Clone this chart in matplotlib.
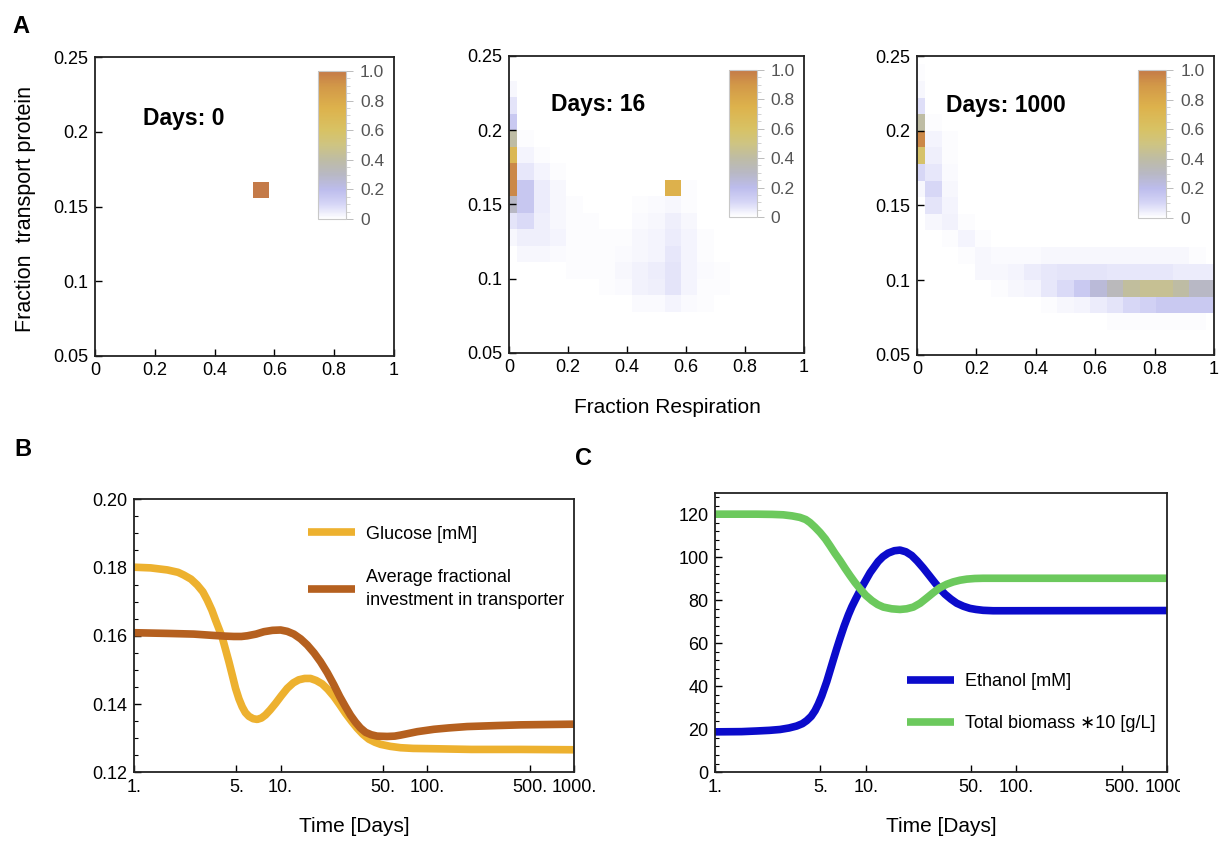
import numpy as np
import matplotlib
matplotlib.use("Agg")
import matplotlib.pyplot as plt
from matplotlib.colors import LinearSegmentedColormap, Normalize
from matplotlib.cm import ScalarMappable
from matplotlib.ticker import MultipleLocator, NullLocator
from matplotlib.transforms import Bbox, TransformedBbox

plt.rcParams['font.family'] = ['Liberation Sans', 'DejaVu Sans']

# ---------- panel A : population density on a 19 x 19 grid ----------
# cells: (column index along respiration, row index along transport, density)
days0_cells = [(10, 10, 1.0)]

days16_cells = [
    (0, 16, .02), (0, 15, .07), (0, 14, .15), (0, 13, .4), (0, 12, .7), (0, 11, .95), (0, 10, .95), (0, 9, .3), (0, 8, .07), (0, 7, .02),
    (1, 13, .01), (1, 12, .03), (1, 11, .06), (1, 10, .16), (1, 9, .16), (1, 8, .09), (1, 7, .04), (1, 6, .02),
    (2, 12, .01), (2, 11, .03), (2, 10, .05), (2, 9, .05), (2, 8, .04), (2, 7, .04), (2, 6, .02),
    (3, 11, .01), (3, 10, .02), (3, 9, .02), (3, 8, .02), (3, 7, .03), (3, 6, .015),
    (4, 9, .01), (4, 8, .01), (4, 7, .01), (4, 6, .01), (4, 5, .01),
    (5, 8, .01), (5, 7, .01), (5, 6, .01), (5, 5, .01),
    (6, 7, .01), (6, 6, .01), (6, 5, .01), (6, 4, .01),
    (7, 7, .01), (7, 6, .015), (7, 5, .02), (7, 4, .015),
    (8, 9, .01), (8, 8, .015), (8, 7, .02), (8, 6, .02), (8, 5, .035), (8, 4, .035), (8, 3, .015),
    (9, 9, .015), (9, 8, .02), (9, 7, .03), (9, 6, .03), (9, 5, .045), (9, 4, .04), (9, 3, .015),
    (10, 10, .75), (10, 9, .02), (10, 8, .04), (10, 7, .05), (10, 6, .06), (10, 5, .07), (10, 4, .07), (10, 3, .03),
    (11, 10, .01), (11, 9, .01), (11, 8, .02), (11, 7, .03), (11, 6, .03), (11, 5, .03), (11, 4, .03), (11, 3, .015),
    (12, 7, .01), (12, 6, .01), (12, 5, .015), (12, 4, .01), (12, 3, .01),
    (13, 5, .01), (13, 4, .01),
]

days1000_cells = [
    (0, 17, .01), (0, 16, .02), (0, 15, .08), (0, 14, .4), (0, 13, .95), (0, 12, .58), (0, 11, .1), (0, 10, .02),
    (1, 14, .01), (1, 13, .03), (1, 12, .04), (1, 11, .06), (1, 10, .1), (1, 9, .07), (1, 8, .02),
    (2, 13, .01), (2, 12, .01), (2, 11, .015), (2, 10, .02), (2, 9, .03), (2, 8, .035), (2, 7, .01),
    (3, 8, .01), (3, 7, .03), (3, 6, .01),
    (4, 7, .01), (4, 6, .02), (4, 5, .02),
    (5, 6, .015), (5, 5, .02), (5, 4, .01),
    (6, 6, .015), (6, 5, .03), (6, 4, .02),
    (7, 6, .015), (7, 5, .05), (7, 4, .03),
    (8, 6, .02), (8, 5, .06), (8, 4, .06), (8, 3, .01),
    (9, 6, .02), (9, 5, .07), (9, 4, .09), (9, 3, .02),
    (10, 6, .02), (10, 5, .07), (10, 4, .15), (10, 3, .03),
    (11, 6, .02), (11, 5, .07), (11, 4, .25), (11, 3, .05),
    (12, 6, .02), (12, 5, .06), (12, 4, .33), (12, 3, .07), (12, 2, .01),
    (13, 6, .02), (13, 5, .06), (13, 4, .42), (13, 3, .1), (13, 2, .01),
    (14, 6, .02), (14, 5, .06), (14, 4, .45), (14, 3, .12), (14, 2, .01),
    (15, 6, .02), (15, 5, .06), (15, 4, .45), (15, 3, .15), (15, 2, .01),
    (16, 6, .02), (16, 5, .05), (16, 4, .4), (16, 3, .15), (16, 2, .01),
    (17, 6, .01), (17, 5, .05), (17, 4, .3), (17, 3, .15), (17, 2, .01),
    (18, 5, .05), (18, 4, .3), (18, 3, .15),
]

day_titles = ["Days: 0", "Days: 16", "Days: 1000"]

# ---------- panel B ----------
glc_t = [1, 1.3, 1.69, 2.0, 2.19, 2.45, 2.7, 2.95, 3.16, 3.4, 3.6, 3.8, 4.0, 4.2, 4.44, 4.7,
         4.93, 5.2, 5.47, 5.75, 6.08, 6.5, 6.93, 7.4, 7.89, 8.5, 9.24, 10.1, 11.1, 12.2, 13.3,
         14.6, 16.0, 17.5, 19.2, 21.0, 23.1, 25.3, 27.7, 30.4, 33.3, 36.5, 40, 44, 48, 56, 65.8,
         80, 111, 200, 433, 1000]
glc_v = [0.1801, 0.1799, 0.1793, 0.1786, 0.1778, 0.1766, 0.1749, 0.1729, 0.1705, 0.1675, 0.1646,
         0.1620, 0.1595, 0.1562, 0.1524, 0.1482, 0.1446, 0.1415, 0.1392, 0.1375, 0.1364, 0.1357,
         0.1355, 0.1359, 0.1368, 0.1383, 0.1402, 0.1424, 0.1446, 0.1462, 0.1471, 0.1475, 0.1475,
         0.1469, 0.1459, 0.1443, 0.1422, 0.1398, 0.1373, 0.1350, 0.1329, 0.1311, 0.1297, 0.1288,
         0.1282, 0.1276, 0.1272, 0.1270, 0.1269, 0.1267, 0.1267, 0.1266]

inv_t = [1, 1.69, 2.56, 3.51, 4.2, 4.8, 5.4, 5.93, 6.8, 7.7, 8.8, 10.0, 11.1, 12.3, 13.7, 15.2,
         16.9, 18.7, 20.8, 23.1, 25.3, 27.7, 30, 32.4, 35, 38.0, 41.5, 45.5, 53.3, 60, 65.8, 75,
         85.4, 111, 140, 187, 300, 433, 1000]
inv_v = [0.1609, 0.1607, 0.1605, 0.1601, 0.1599, 0.1598, 0.1598, 0.1600, 0.1605, 0.1612, 0.1616,
         0.1617, 0.1613, 0.1605, 0.1591, 0.1573, 0.1550, 0.1524, 0.1492, 0.1456, 0.1422, 0.1392,
         0.1367, 0.1347, 0.1330, 0.1317, 0.1310, 0.1306, 0.1305, 0.1306, 0.1309, 0.1314, 0.1319,
         0.1326, 0.1330, 0.1334, 0.1337, 0.1339, 0.1341]

# ---------- panel C ----------
eth_t = [1, 1.5, 1.89, 2.3, 2.70, 3.1, 3.48, 3.8, 4.06, 4.35, 4.61, 4.85, 5.11, 5.52, 5.8, 6.10,
         6.42, 6.76, 7.2, 7.68, 8.1, 8.59, 9.42, 10.7, 12.1, 13.0, 14.1, 15.5, 16.9, 18.5, 20.2,
         22, 24.1, 26.4, 28.9, 31.2, 33.6, 36.8, 40.2, 44.5, 49.2, 54, 60.2, 70, 86.2, 1000]
eth_v = [18.8, 18.9, 19.2, 19.5, 19.9, 20.6, 21.5, 22.6, 24.0, 26.0, 28.6, 31.7, 35.5, 42.2, 47.2,
         52.3, 57.4, 62.3, 68.0, 73.2, 77.0, 80.6, 86.0, 92.8, 98.0, 100.2, 101.9, 103.0, 103.3,
         102.5, 100.8, 98.2, 95.0, 91.5, 88.0, 85.2, 82.8, 80.5, 78.6, 77.2, 76.2, 75.7, 75.3,
         75.1, 75.1, 75.2]

bio_t = [1, 1.89, 2.4, 2.84, 3.25, 3.66, 4.0, 4.27, 4.6, 4.98, 5.4, 5.80, 6.25, 6.76, 7.3, 7.88,
         8.5, 9.18, 10.0, 11.0, 12.0, 13.1, 14.9, 16.9, 18.7, 20.7, 23.0, 25.4, 28.1, 31.1, 34.5,
         38.1, 42.3, 46.9, 53, 60.2, 1000]
bio_v = [120.0, 120.0, 119.9, 119.7, 119.2, 118.5, 117.5, 116.1, 114.0, 111.5, 108.5, 105.3, 101.8,
         98.4, 94.8, 91.4, 88.2, 85.3, 82.3, 79.8, 78.0, 76.8, 76.0, 75.7, 76.0, 76.8, 78.6, 81.0,
         83.5, 85.8, 87.4, 88.5, 89.3, 89.8, 90.1, 90.2, 90.2]

time_ticks = [1, 5, 10, 50, 100, 500, 1000]
time_labels = ["1.", "5.", "10.", "50.", "100.", "500.", "1000."]

# colour scheme of the density plots
cmap = LinearSegmentedColormap.from_list("dens", [
    (0.0, '#ffffff'), (0.1, '#d6d6f6'), (0.2, '#bcbcec'), (0.3, '#b8b8c4'), (0.4, '#bebca4'),
    (0.5, '#cec482'), (0.6, '#d8c264'), (0.75, '#ddb24c'), (0.9, '#d29848'), (1.0, '#c47a48')])
norm = Normalize(0, 1)

fig = plt.figure(figsize=(12.3, 8.41), dpi=100)

x_edges = np.arange(-0.5, 19.5) / 18
y_edges = 0.05 + np.arange(-0.5, 19.5) * 0.2 / 18


def density_panel(rect, cells, title, title_pos):
    ax = fig.add_axes(rect)
    grid = np.zeros((19, 19))
    for c, r, v in cells:
        grid[r, c] = v
    ax.pcolormesh(x_edges, y_edges, grid, cmap=cmap, norm=norm)
    ax.set_xlim(0, 1)
    ax.set_ylim(0.05, 0.25)
    ax.set_xticks([0, 0.2, 0.4, 0.6, 0.8, 1])
    ax.set_xticklabels(["0", "0.2", "0.4", "0.6", "0.8", "1"])
    ax.set_yticks([0.05, 0.1, 0.15, 0.2, 0.25])
    ax.set_yticklabels(["0.05", "0.1", "0.15", "0.2", "0.25"])
    ax.tick_params(direction='in', length=5, width=1, labelsize=13, pad=4.5)
    for s in ax.spines.values():
        s.set_linewidth(1.3)
        s.set_color('#222222')
    ax.text(title_pos[0], title_pos[1], title, transform=ax.transAxes,
            fontsize=16.5, fontweight='bold', va='center')
    cax = ax.inset_axes([0.745, 0.458, 0.095, 0.495])
    cb = fig.colorbar(ScalarMappable(norm=norm, cmap=cmap), cax=cax)
    cb.outline.set_edgecolor('#c8c8c8')
    cb.outline.set_linewidth(0.8)
    cb.set_ticks([0, 0.2, 0.4, 0.6, 0.8, 1.0])
    cb.set_ticklabels(["0", "0.2", "0.4", "0.6", "0.8", "1.0"])
    cax.yaxis.set_minor_locator(MultipleLocator(0.05))
    cax.tick_params(which='major', length=5, width=0.7, color='#bbbbbb',
                    labelcolor='#555555', labelsize=12.5, pad=5)
    cax.tick_params(which='minor', length=3, width=0.6, color='#cccccc')
    return ax


density_panel([0.0772, 0.5767, 0.2431, 0.3555], days0_cells, day_titles[0], (0.16, 0.796))
density_panel([0.4138, 0.5803, 0.2398, 0.3532], days16_cells, day_titles[1], (0.142, 0.835))
density_panel([0.7455, 0.5779, 0.2415, 0.3555], days1000_cells, day_titles[2], (0.098, 0.836))

fig.text(0.0205, 0.751, "Fraction  transport protein", rotation=90, fontsize=15.5,
         ha='center', va='center')
fig.text(0.543, 0.515, "Fraction Respiration", fontsize=15, ha='center', va='center')


def time_axis(ax):
    ax.set_xscale('log')
    ax.set_xlim(1, 1000)
    ax.set_xticks(time_ticks)
    ax.set_xticklabels(time_labels)
    ax.xaxis.set_minor_locator(NullLocator())
    ax.tick_params(which='major', direction='in', length=5, width=1, labelsize=13, pad=4.5)
    ax.tick_params(which='minor', direction='in', length=3, width=0.8)
    ax.tick_params(top=False, right=False, which='both')
    for s in ax.spines.values():
        s.set_linewidth(1.3)
        s.set_color('#222222')


def spaced_legend(ax, anchor, spacing):
    leg = ax.legend(loc='upper left', bbox_to_anchor=anchor, frameon=False, fontsize=13,
                    handlelength=2.6, handletextpad=0.65, borderpad=0, borderaxespad=0,
                    labelspacing=spacing)
    for t in leg.get_texts():
        t.set_linespacing(1.4)
    return leg


# B
ax_b = fig.add_axes([0.1089, 0.0817, 0.3577, 0.3246])
ax_b.plot(glc_t, glc_v, color='#EDB12F', lw=5.5, solid_capstyle='butt', solid_joinstyle='round',
          label="Glucose [mM]")
ax_b.plot(inv_t, inv_v, color='#B5601F', lw=5.5, solid_capstyle='butt', solid_joinstyle='round',
          label="Average fractional\ninvestment in transporter")
time_axis(ax_b)
ax_b.set_ylim(0.12, 0.20)
ax_b.set_yticks([0.12, 0.14, 0.16, 0.18, 0.20])
ax_b.set_yticklabels(["0.12", "0.14", "0.16", "0.18", "0.20"])
ax_b.yaxis.set_minor_locator(MultipleLocator(0.005))
spaced_legend(ax_b, (0.395, 0.903), 1.47)

# C
ax_c = fig.add_axes([0.5813, 0.0817, 0.3675, 0.3325])
ax_c.plot(eth_t, eth_v, color='#0B0BCB', lw=5.5, solid_capstyle='butt', solid_joinstyle='round',
          label="Ethanol [mM]")
ax_c.plot(bio_t, bio_v, color='#6CC95D', lw=5.5, solid_capstyle='butt', solid_joinstyle='round',
          label="Total biomass \u221710 [g/L]")
time_axis(ax_c)
ax_c.set_ylim(0, 130)
ax_c.set_yticks([0, 20, 40, 60, 80, 100, 120])
ax_c.yaxis.set_minor_locator(MultipleLocator(4))
spaced_legend(ax_c, (0.424, 0.354), 1.36)

# the last time label of C runs off the original picture
clip = TransformedBbox(Bbox([[0, 0], [1180 / 1230, 1]]), fig.transFigure)
for lab in ax_c.get_xticklabels():
    lab.set_clip_box(clip)
    lab.set_clip_on(True)

fig.text(354 / 1230, 1 - 827 / 841, "Time [Days]", fontsize=15, ha='center', va='center')
fig.text(941 / 1230, 1 - 827 / 841, "Time [Days]", fontsize=15, ha='center', va='center')

fig.text(0.0098, 0.982, "A", fontsize=17, fontweight='bold', va='top')
fig.text(0.012, 0.479, "B", fontsize=17, fontweight='bold', va='top')
fig.text(0.4675, 0.4685, "C", fontsize=17, fontweight='bold', va='top')

fig.savefig("out.png", dpi=100)
